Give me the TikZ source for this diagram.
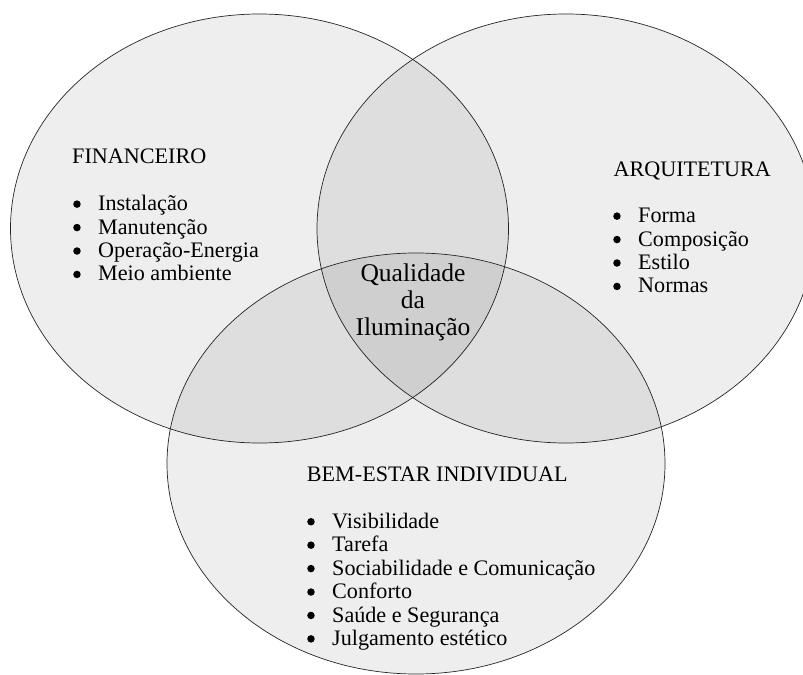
\documentclass[tikz,border=0pt]{standalone}
\usepackage{fontspec}
\setmainfont{Liberation Serif}
\usetikzlibrary{shapes.geometric}
\newcommand{\bul}{\makebox[21.3pt][l]{\raisebox{2.4pt}{\tikz\fill (0,0) circle (3.2pt);}}}
\begin{document}
\begin{tikzpicture}[x=0.03cm, y=-0.03cm,
        every node/.style={inner sep=0pt},
        area/.style={ellipse, draw=black!85, line width=0.6pt, fill=black, fill opacity=0.065, text opacity=1},
        heading/.style={anchor=base west, font=\fontsize{18.9}{20}\selectfont},
        items/.style={anchor=base west, font=\fontsize{18.9}{20}\selectfont},
        core text/.style={anchor=base, font=\fontsize{21.8}{23.05}\selectfont}
    ]
        \useasboundingbox (0,0) rectangle (803,675);

        % Areas
        \node[area, minimum width=14.94cm, minimum height=12.87cm] (fin) at (259.5,228.5) {};
        \node[area, minimum width=14.94cm, minimum height=12.87cm] (arq) at (566,228.5) {};
        \node[area, minimum width=14.94cm, minimum height=12.63cm] (bem) at (416,463.5) {};

        % Financeiro
        \node[heading] (fin_title) at (72,164) {FINANCEIRO};
        \node[items] (fin_list) at (73,210.7) {\begin{tabular}[t]{@{}l@{}}
            \bul Instalação\\
            \bul Manutenção\\
            \bul Operação-Energia\\
            \bul Meio ambiente
        \end{tabular}};

        % Arquitetura
        \node[heading] (arq_title) at (613.3,176) {ARQUITETURA};
        \node[items] (arq_list) at (613,222.7) {\begin{tabular}[t]{@{}l@{}}
            \bul Forma\\
            \bul Composição\\
            \bul Estilo\\
            \bul Normas
        \end{tabular}};

        % Bem-estar
        \node[heading] (bem_title) at (306.7,481.7) {BEM-ESTAR INDIVIDUAL};
        \node[items] (bem_list) at (307,528.3) {\begin{tabular}[t]{@{}l@{}}
            \bul Visibilidade\\
            \bul Tarefa\\
            \bul Sociabilidade e Comunicação\\
            \bul Conforto\\
            \bul Saúde e Segurança\\
            \bul Julgamento estético
        \end{tabular}};

        % Centre
        \node[core text] (core) at (413,281) {\begin{tabular}[t]{@{}c@{}}
            Qualidade\\
            da\\
            Iluminação
        \end{tabular}};

    \end{tikzpicture}
\end{document}
